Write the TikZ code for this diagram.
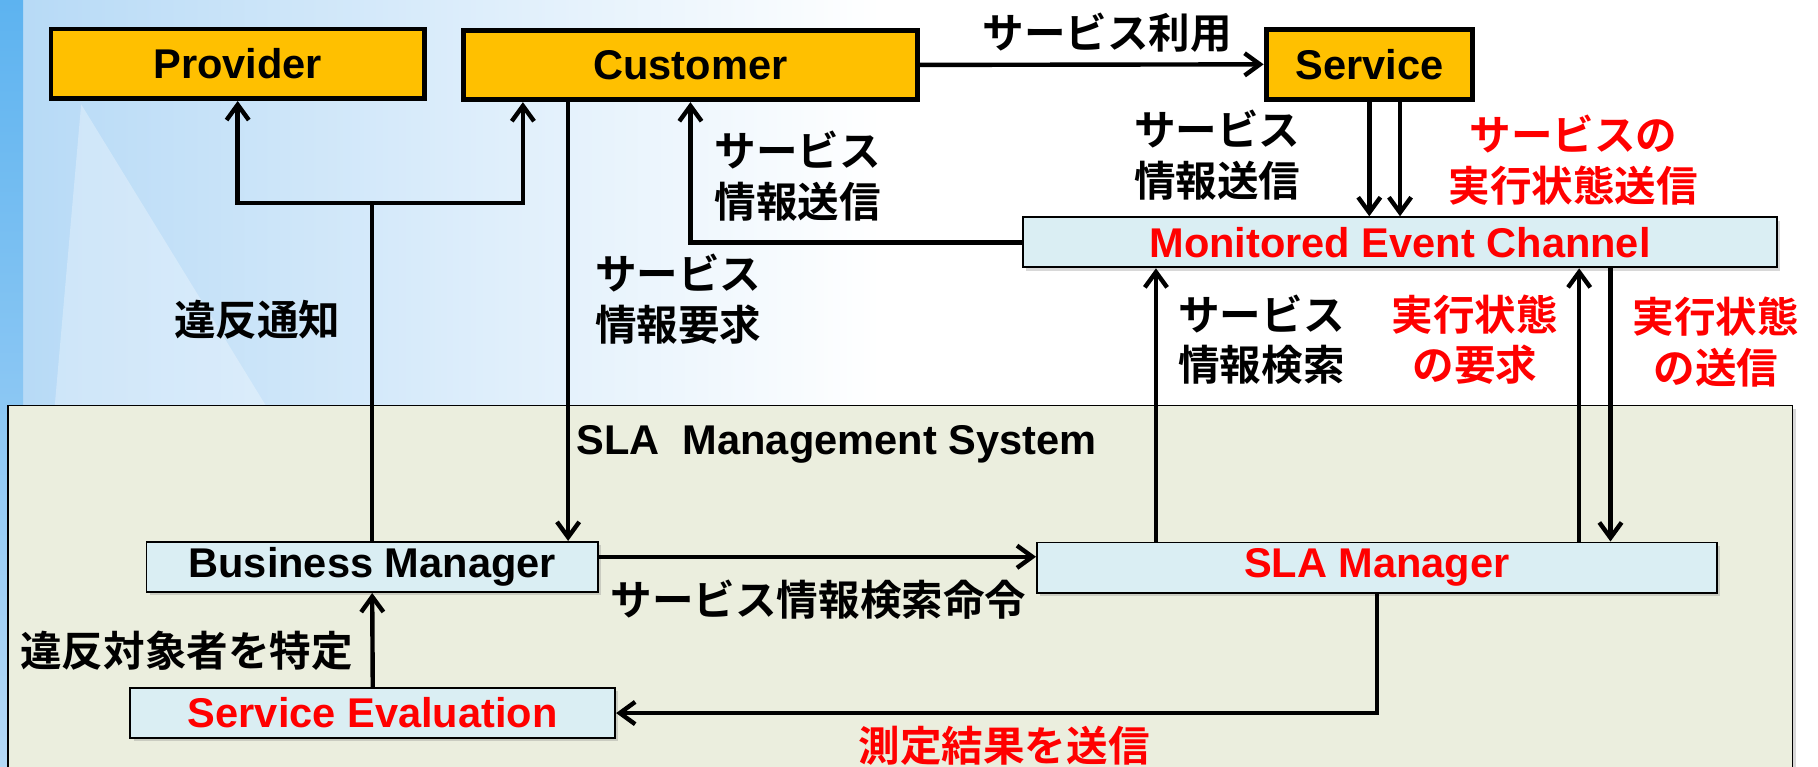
\documentclass[tikz,border=0pt]{standalone}
\usepackage{fontspec}
\setmainfont{Liberation Sans}
\newfontfamily\jpfont{Noto Sans CJK JP}[BoldFont={Noto Sans CJK JP Bold}]
\usetikzlibrary{arrows.meta,shadows}

\definecolor{boxorange}{HTML}{FFC000}
\definecolor{boxblue}{HTML}{DAEEF3}
\definecolor{sysgreen}{HTML}{EBEEDE}
\definecolor{skyblue}{HTML}{B5D9F6}
\definecolor{stripblue}{HTML}{5DB3F0}

\tikzset{
	actor/.style={draw, line width=3pt, fill=boxorange, inner sep=0pt,
		minimum height=1.5cm, font=\bfseries\fontsize{25.5}{31}\selectfont},
	module/.style={draw, line width=1.2pt, fill=boxblue, inner sep=0pt,
		minimum height=1.08cm, font=\bfseries\fontsize{25.5}{31}\selectfont,
		drop shadow={opacity=0.3, shadow xshift=0.07cm, shadow yshift=-0.07cm}},
	lbl/.style={inner sep=0pt, align=center,
		font=\jpfont\bfseries\fontsize{25.5}{31}\selectfont},
	arr/.style={line width=2.7pt, -{Straight Barb[length=0.33cm,width=0.48cm]}},
}

\begin{document}
\begin{tikzpicture}[x=0.025cm, y=-0.025cm]
\useasboundingbox (0,0) rectangle (1568,661);
\clip (0,0) rectangle (1568,661);

% the background
\fill[white] (0,0) rectangle (1568,661);
\shade[left color=skyblue, right color=white] (0,0) rectangle (760,661);
\shade[top color=stripblue, bottom color=skyblue] (0,0) rectangle (20,661);
\fill[white, opacity=0.3] (70,90) -- (20,661) -- (420,661) -- cycle;

%the box
\draw[line width=0.8pt, fill=sysgreen,
	drop shadow={opacity=0.3, shadow xshift=0.07cm, shadow yshift=-0.07cm}]
	(7,350) rectangle (1546,700);
\node[lbl, anchor=west, font=\bfseries\fontsize{25.5}{31}\selectfont] (lSys) at (497,383) {SLA\ \ Management System};

% the shapes
\node[actor, minimum width=8.05cm] (prov) at (205,55) {Provider};
\node[actor, minimum width=9.78cm] (cust) at (595.5,56) {Customer};
\node[actor, minimum width=4.45cm] (serv) at (1181,55.5) {Service};
\node[module, minimum width=16.25cm, text=red] (mec) at (1207.5,209) {Monitored Event Channel};
\node[module, minimum width=9.73cm] (bm) at (321,489) {Business Manager};
\node[module, minimum width=14.65cm, text=red] (slam) at (1187.5,489.5) {SLA Manager};
\node[module, minimum width=10.45cm, text=red] (seval) at (321.5,615) {Service Evaluation};

% the arrows
\draw[arr] (cust.east) -- (serv.west);
\draw[arr] (mec.west) -| (cust.south);
\draw[arr] (serv.south) -- (serv.south |- mec.north);
\draw[arr] (serv.south -| mec.north) -- (mec.north);
\coordinate (junc) at (bm.north |- 0,175);
\draw[arr] (bm.north) -- (junc) -| (prov.south);
\draw[arr] (junc) -| (cust.south -| 451,0);
\draw[arr] (cust.south -| 490,0) -- (bm.north -| 490,0);
\coordinate (bmout) at ([yshift=0.22cm]bm.east);
\draw[arr] (bmout) -- (bmout -| slam.west);
\draw[arr] (slam.north -| 997,0) -- (mec.south -| 997,0);
\draw[arr] (slam.north -| 1362,0) -- (mec.south -| 1362,0);
\draw[arr] (mec.south -| 1389,0) -- (slam.north -| 1389,0);
\draw[arr] (slam.south) |- (seval.east);
\draw[arr] (seval.north) -- (bm.south);

% the labels
\node[lbl] (lUse) at (955,28) {サービス利用};
\node[lbl] (lInfoC) at (688,152) {サービス\\情報送信};
\node[lbl] (lInfoS) at (1050,134) {サービス\\情報送信};
\node[lbl, text=red] (lStat) at (1357,138) {サービスの\\実行状態送信};
\node[lbl] (lViol) at (222,276) {違反通知};
\node[lbl] (lReq) at (585,258) {サービス\\情報要求};
\node[lbl] (lSearch) at (1088,293) {サービス\\情報検索};
\node[lbl, text=red] (lStReq) at (1272,293) {実行状態\\の要求};
\node[lbl, text=red] (lStSend) at (1480,295) {実行状態\\の送信};
\node[lbl] (lCmd) at (706,517) {サービス情報検索命令};
\node[lbl] (lTarget) at (161,561) {違反対象者を特定};
\node[lbl, text=red] (lMeas) at (866,643) {測定結果を送信};

\end{tikzpicture}
\end{document}
